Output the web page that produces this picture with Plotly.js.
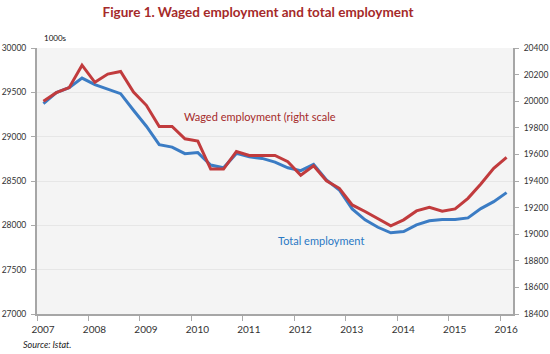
<!DOCTYPE html>
<html>
<head>
<meta charset="utf-8">
<script src="https://cdn.plot.ly/plotly-3.0.1.min.js"></script>
<style>html,body{margin:0;padding:0;background:#fff;}#chart{width:550px;height:354px;}</style>
</head>
<body>
<div id="chart"></div>
<script>
// Quarterly data, 2007Q1 .. 2016Q1 (thousands)
const quarters = [
  "2007Q1","2007Q2","2007Q3","2007Q4","2008Q1","2008Q2","2008Q3","2008Q4",
  "2009Q1","2009Q2","2009Q3","2009Q4","2010Q1","2010Q2","2010Q3","2010Q4",
  "2011Q1","2011Q2","2011Q3","2011Q4","2012Q1","2012Q2","2012Q3","2012Q4",
  "2013Q1","2013Q2","2013Q3","2013Q4","2014Q1","2014Q2","2014Q3","2014Q4",
  "2015Q1","2015Q2","2015Q3","2015Q4","2016Q1"
];
const totalEmployment = [
  29373,29497,29553,29661,29587,29537,29485,29298,
  29118,28910,28882,28808,28820,28680,28649,28811,
  28773,28755,28713,28649,28616,28688,28511,28399,
  28185,28062,27978,27916,27930,28006,28051,28065,
  28065,28084,28189,28267,28369
];
const wagedEmployment = [
  19999,20064,20102,20271,20142,20204,20224,20069,
  19969,19810,19810,19717,19700,19490,19490,19622,
  19592,19592,19592,19545,19443,19515,19402,19345,
  19220,19171,19119,19063,19108,19175,19203,19173,
  19190,19270,19377,19495,19577
];
const yearLabels = ["2007","2008","2009","2010","2011","2012","2013","2014","2015","2016"];

const xIdx = quarters.map((q, i) => i);
const tickPos = yearLabels.map((y, i) => i * 4 - 0.5);

const FONT = "Lato, 'Open Sans', sans-serif";

const traces = [
  {
    x: xIdx, y: totalEmployment, name: "Total employment",
    type: "scatter", mode: "lines", yaxis: "y",
    line: {color: "#3b7cc4", width: 3}, hoverinfo: "skip"
  },
  {
    x: xIdx, y: wagedEmployment, name: "Waged employment",
    type: "scatter", mode: "lines", yaxis: "y2",
    line: {color: "#c13b3d", width: 3}, hoverinfo: "skip"
  }
];

const layout = {
  width: 550, height: 354,
  margin: {l: 37, r: 37, t: 47.5, b: 39.5, pad: 0},
  paper_bgcolor: "#ffffff",
  plot_bgcolor: "#f4f4f4",
  showlegend: false,
  font: {family: FONT, color: "#333333", size: 9},
  title: {
    text: "<b>Figure 1. Waged employment and total employment</b>",
    font: {family: FONT, size: 13.5, color: "#a52a2a"},
    x: 258/550, xref: "container", xanchor: "center",
    y: 1 - 12/354, yref: "container", yanchor: "middle"
  },
  xaxis: {
    range: [-0.5, 36.5],
    tickmode: "array", tickvals: tickPos, ticktext: yearLabels,
    ticks: "outside", ticklen: 5, tickcolor: "#aaaaaa", tickwidth: 1,
    ticklabelshift: 6,
    showgrid: false, zeroline: false,
    showline: true, linecolor: "#a6a6a6", linewidth: 2,
    tickfont: {family: FONT, size: 10, color: "#333333"},
    fixedrange: true
  },
  yaxis: {
    range: [27000, 30000], dtick: 500, tick0: 27000, tickformat: "d",
    ticks: "outside", ticklen: 4, tickcolor: "#aaaaaa",
    showgrid: true, gridcolor: "#e6e6e6", gridwidth: 1,
    zeroline: false, showline: true, linecolor: "#a6a6a6", linewidth: 2,
    tickfont: {family: FONT, size: 8.5, color: "#333333"},
    ticklabelstandoff: 3,
    fixedrange: true
  },
  yaxis2: {
    range: [18400, 20400], dtick: 200, tick0: 18400, tickformat: "d",
    overlaying: "y", side: "right",
    ticks: "outside", ticklen: 4, tickcolor: "#aaaaaa",
    showgrid: false, zeroline: false,
    showline: true, linecolor: "#a6a6a6", linewidth: 2,
    tickfont: {family: FONT, size: 8.5, color: "#333333"},
    ticklabelstandoff: 3,
    fixedrange: true
  },
  annotations: [
    {
      text: "1000s", xref: "paper", yref: "paper",
      x: (42-37)/476, y: (314.5-37)/267, xanchor: "left", yanchor: "middle",
      showarrow: false, font: {family: FONT, size: 8, color: "#111111"}
    },
    {
      text: "Waged employment (right scale", xref: "paper", yref: "paper",
      x: (181.7-37)/476, y: (314.5-116.7)/267, xanchor: "left", yanchor: "middle",
      showarrow: false, font: {family: FONT, size: 11, color: "#a52a2a"}
    },
    {
      text: "Total employment", xref: "paper", yref: "paper",
      x: (276-37)/476, y: (314.5-241)/267, xanchor: "left", yanchor: "middle",
      showarrow: false, font: {family: FONT, size: 11, color: "#2a78c4"}
    },
    {
      text: "<i>Source: Istat.</i>", xref: "paper", yref: "paper",
      x: (21-37)/476, y: (314.5-345)/267, xanchor: "left", yanchor: "middle",
      showarrow: false, font: {family: FONT, size: 9, color: "#222222"}
    }
  ]
};

Plotly.newPlot("chart", traces, layout, {displayModeBar: false, staticPlot: true});
</script>
</body>
</html>
